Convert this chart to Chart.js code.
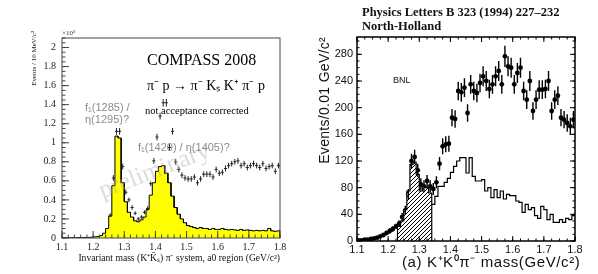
<!DOCTYPE html>
<html>
<head>
<meta charset="utf-8">
<script src="https://cdn.jsdelivr.net/npm/chart.js@4.4.1/dist/chart.umd.min.js"></script>
<style>
  html, body { margin: 0; padding: 0; background: #fff; }
  #wrap { position: relative; width: 598px; height: 274px; overflow: hidden; }
  #left { position: absolute; left: 0; top: 0; width: 300px; height: 274px; }
  #right { position: absolute; left: 300px; top: 0; width: 298px; height: 274px; }
</style>
</head>
<body>
<div id="wrap">
  <canvas id="left" width="300" height="274"></canvas>
  <canvas id="right" width="298" height="274"></canvas>
</div>
<script>
// ---- left panel: COMPASS 2008, units of 10^3 events / 10 MeV ----
const compassBinStart = 1.10;
const compassBinWidth = 0.01;
const compassHist = [
  0.002, 0.002, 0.003, 0.003, 0.003, 0.004, 0.005, 0.005, 0.006, 0.008,
  0.012, 0.015, 0.025, 0.05, 0.1, 0.23, 0.55, 1.07, 1.05, 0.58,
  0.38, 0.27, 0.22, 0.18, 0.17, 0.19, 0.22, 0.3, 0.45, 0.58,
  0.7, 0.75, 0.76, 0.68, 0.58, 0.44, 0.32, 0.25, 0.2, 0.16,
  0.13, 0.12, 0.11, 0.1, 0.11, 0.1, 0.1, 0.09, 0.1, 0.09,
  0.09, 0.1, 0.09, 0.085, 0.09, 0.085, 0.08, 0.09, 0.08, 0.085,
  0.08, 0.075, 0.08, 0.075, 0.08, 0.075, 0.1, 0.075, 0.07, 0.075
];
const compassPtStart = 1.255;
const compassPts = [
  0.24, 0.63, 1.12, 1.12, 0.75,
  0.48, 0.4, 0.32, 0.26, 0.2, 0.22, 0.27, 0.31, 0.57, 0.81,
  1.06, 1.28, 1.42, 1.42, 0.95, 1.12, 0.8, 0.72, 0.66, 0.63,
  0.62, 0.62, 0.64, 0.58, 0.62, 0.67, 0.67, 0.67, 0.64, 0.72,
  0.68, 0.69, 0.73, 0.76, 0.78, 0.8, 0.81, 0.76, 0.78, 0.74,
  0.76, 0.78, 0.76, 0.74, 0.78, 0.73, 0.75, 0.76, 0.7, 0.76
];
const compassPtErr = [
  0.02, 0.03, 0.035, 0.035, 0.03,
  0.025, 0.025, 0.025, 0.02, 0.02, 0.02, 0.02, 0.025, 0.025, 0.03,
  0.035, 0.035, 0.04, 0.04, 0.035, 0.035, 0.03, 0.03, 0.03, 0.03,
  0.03, 0.03, 0.03, 0.03, 0.03, 0.03, 0.03, 0.03, 0.03, 0.03,
  0.03, 0.03, 0.03, 0.03, 0.03, 0.03, 0.03, 0.03, 0.03, 0.03,
  0.03, 0.03, 0.03, 0.03, 0.03, 0.03, 0.03, 0.03, 0.03, 0.03
];
const compassXLabels = ['1.1', '1.2', '1.3', '1.4', '1.5', '1.6', '1.7', '1.8'];
const compassYLabels = ['0', '0.2', '0.4', '0.6', '0.8', '1', '1.2', '1.4', '1.6', '1.8', '2'];

// ---- right panel: BNL, Phys. Lett. B 323 (1994), events / 0.01 GeV ----
const bnlPtStart = 1.105;
const bnlPts = [
  1, 1, 2, 2, 3, 4, 5, 7, 9, 12,
  15, 18, 22, 26, 36, 46, 70, 120, 126, 106,
  85, 82, 90, 82, 78, 88, 116, 142, 145, 146,
  185, 183, 225, 223, 230, 192, 235, 225, 222, 237,
  247, 240, 228, 235, 247, 255, 235, 277, 262, 260,
  235, 252, 260, 225, 212, 240, 195, 212, 227, 227,
  228, 240, 195, 212, 218, 185, 182, 177, 172, 182
];
const bnlErr = [
  1, 1, 1, 1, 2, 2, 2, 3, 3, 3,
  4, 4, 4, 5, 6, 7, 8, 11, 11, 10,
  9, 9, 9, 9, 9, 9, 10, 12, 12, 12,
  13, 13, 14, 14, 14, 13, 14, 14, 14, 14,
  15, 15, 14, 14, 15, 15, 14, 16, 15, 15,
  14, 15, 15, 14, 14, 15, 13, 14, 14, 14,
  14, 15, 13, 14, 14, 13, 13, 13, 13, 13
];
const bnlHatchStart = 1.23;
const bnlHatch = [22, 30, 47, 75, 115, 118, 100, 75, 82, 80, 72];
const bnlMcStart = 1.34;
const bnlMc = [
  55, 67, 82, 82, 88, 94, 103, 112, 120, 125,
  125, 102, 125, 97, 90, 90, 92, 75, 80, 65,
  77, 65, 75, 63, 70, 68, 68, 60, 58, 43,
  55, 47, 50, 38, 34, 52, 47, 32, 40, 28,
  28, 32, 28, 34, 32, 38
];
const bnlXLabels = ['1.1', '1.2', '1.3', '1.4', '1.5', '1.6', '1.7', '1.8'];
const bnlYLabels = ['0', '40', '80', '120', '160', '200', '240', '280'];

// histogram outline as edge pairs
function histPoints(start, width, vals, closed) {
  const pts = [];
  if (closed) pts.push({ x: start, y: 0 });
  vals.forEach((v, i) => {
    const lo = +(start + i * width).toFixed(4);
    pts.push({ x: lo, y: v }, { x: +(lo + width).toFixed(4), y: v });
  });
  if (closed) pts.push({ x: pts[pts.length - 1].x, y: 0 });
  return pts;
}
function seriesPoints(start, vals) {
  return vals.map((v, i) => ({ x: +(start + i * 0.01).toFixed(4), y: v }));
}

function hatchPattern() {
  const c = document.createElement('canvas');
  c.width = 4; c.height = 4;
  const g = c.getContext('2d');
  g.fillStyle = '#fff'; g.fillRect(0, 0, 4, 4);
  g.strokeStyle = '#000'; g.lineWidth = 1;
  g.beginPath();
  g.moveTo(0, 4); g.lineTo(4, 0);
  g.moveTo(-1, 1); g.lineTo(1, -1);
  g.moveTo(3, 5); g.lineTo(5, 3);
  g.stroke();
  return g.createPattern(c, 'repeat');
}

// frame box + inward tick marks
const frameTicks = {
  id: 'frameTicks',
  afterDraw(chart, args, o) {
    const { ctx, chartArea: a, scales: { x, y } } = chart;
    ctx.save();
    ctx.strokeStyle = o.color;
    ctx.lineWidth = o.lineWidth;
    ctx.strokeRect(a.left, a.top, a.right - a.left, a.bottom - a.top);
    ctx.lineWidth = o.tickWidth;
    ctx.beginPath();
    const xTicks = (step, len) => {
      const n = Math.round((x.max - x.min) / step);
      for (let i = 0; i <= n; i++) {
        const p = x.getPixelForValue(x.min + i * step);
        ctx.moveTo(p, a.bottom); ctx.lineTo(p, a.bottom - len);
        if (o.mirror) { ctx.moveTo(p, a.top); ctx.lineTo(p, a.top + len); }
      }
    };
    const yTicks = (step, len) => {
      const n = Math.floor((y.max - y.min) / step + 1e-6);
      for (let i = 0; i <= n; i++) {
        const p = y.getPixelForValue(y.min + i * step);
        ctx.moveTo(a.left, p); ctx.lineTo(a.left + len, p);
        if (o.mirror) { ctx.moveTo(a.right, p); ctx.lineTo(a.right - len, p); }
      }
    };
    xTicks(o.xMajor, o.majorLen); xTicks(o.xMinor, o.minorLen);
    yTicks(o.yMajor, o.majorLen); yTicks(o.yMinor, o.minorLen);
    ctx.stroke();
    ctx.restore();
  }
};

// error bars from dataset.errY / dataset.errX
const errorBars = {
  id: 'errorBars',
  afterDatasetsDraw(chart) {
    const { ctx, scales: { x, y } } = chart;
    chart.data.datasets.forEach(ds => {
      if (!ds.errY) return;
      ctx.save();
      ctx.strokeStyle = ds.barColor;
      ctx.lineWidth = ds.barWidth;
      ctx.beginPath();
      ds.data.forEach((p, i) => {
        const px = x.getPixelForValue(p.x), py = y.getPixelForValue(p.y);
        ctx.moveTo(px, y.getPixelForValue(p.y - ds.errY[i]));
        ctx.lineTo(px, y.getPixelForValue(p.y + ds.errY[i]));
        if (ds.errX) {
          ctx.moveTo(x.getPixelForValue(p.x - ds.errX), py);
          ctx.lineTo(x.getPixelForValue(p.x + ds.errX), py);
        }
      });
      ctx.stroke();
      ctx.restore();
    });
  }
};

function txt(ctx, s, x, y, font, color, align) {
  ctx.font = font;
  ctx.fillStyle = color;
  ctx.textAlign = align || 'left';
  ctx.textBaseline = 'alphabetic';
  ctx.fillText(s, x, y);
}

const serif = '"Liberation Serif", "Times New Roman", serif';
const sans = '"Liberation Sans", Arial, sans-serif';

// ---- left chart ----
const compassText = {
  id: 'compassText',
  afterDraw(chart) {
    const ctx = chart.ctx;
    ctx.save();
    // watermark
    ctx.save();
    ctx.translate(154, 170);
    ctx.rotate(-21 * Math.PI / 180);
    ctx.globalAlpha = 0.4;
    txt(ctx, 'preliminary', 0, 8, '25px ' + serif, '#a8a8a8', 'center');
    ctx.restore();

    txt(ctx, 'COMPASS 2008', 147, 65, '16px ' + serif, '#000');
    txt(ctx, 'π⁻ p → π⁻ Kₛ K⁺ π⁻ p', 147, 90, '14px ' + serif, '#000');
    txt(ctx, 'not acceptance corrected', 145, 114, '10.5px ' + serif, '#000');
    txt(ctx, 'f₁(1285) /', 85, 111, '11px ' + sans, '#8c8c8c');
    txt(ctx, 'η(1295)?', 85, 123, '11px ' + sans, '#8c8c8c');
    txt(ctx, 'f₁(1420) / η(1405)?', 138, 151, '11px ' + sans, '#8c8c8c');
    txt(ctx, '×10³', 62, 35, '7px ' + serif, '#333');
    txt(ctx, 'Invariant mass (K⁺K̄ₛ) π⁻ system, a0 region (GeV/c²)', 280, 261, '9.6px ' + serif, '#111', 'right');

    ctx.save();
    ctx.translate(36, 31);
    ctx.rotate(-Math.PI / 2);
    txt(ctx, 'Events / 10 MeV/c²', 0, 0, '7px ' + serif, '#222', 'right');
    ctx.restore();
    ctx.restore();
  }
};

new Chart(document.getElementById('left'), {
  type: 'scatter',
  data: {
    datasets: [
      {
        type: 'line',
        data: histPoints(compassBinStart, compassBinWidth, compassHist, true),
        borderColor: '#000',
        borderWidth: 1,
        backgroundColor: '#ffff00',
        fill: 'origin',
        pointRadius: 0,
        tension: 0
      },
      {
        data: seriesPoints(compassPtStart, compassPts),
        pointRadius: 0,
        errY: compassPtErr,
        errX: 0.005,
        barColor: '#222',
        barWidth: 1
      }
    ]
  },
  options: {
    responsive: false,
    animation: false,
    events: [],
    layout: { padding: { left: 0, top: 38, right: 20, bottom: 0 } },
    plugins: {
      legend: { display: false },
      tooltip: { enabled: false },
      frameTicks: { color: '#444', lineWidth: 1, tickWidth: 1, mirror: false,
        xMajor: 0.1, xMinor: 0.02, yMajor: 0.2, yMinor: 0.05, majorLen: 7, minorLen: 3.5 }
    },
    scales: {
      x: {
        type: 'linear', min: 1.1, max: 1.8,
        grid: { display: false, drawTicks: false },
        border: { display: false },
        ticks: { stepSize: 0.1, includeBounds: false, padding: 3, maxRotation: 0,
          font: { family: serif, size: 10 }, color: '#222',
          callback: (v, i) => compassXLabels[i] },
        afterFit: s => { s.height = 36; s.paddingLeft = 0; s.paddingRight = 0; }
      },
      y: {
        type: 'linear', min: 0, max: 2.1,
        grid: { display: false, drawTicks: false },
        border: { display: false },
        ticks: { stepSize: 0.2, includeBounds: false, padding: 6,
          font: { family: serif, size: 10 }, color: '#222',
          callback: (v, i) => compassYLabels[i] },
        afterFit: s => { s.width = 62; s.paddingTop = 0; s.paddingBottom = 0; }
      }
    }
  },
  plugins: [frameTicks, errorBars, compassText]
});

// ---- right chart ----
const bnlText = {
  id: 'bnlText',
  afterDraw(chart) {
    const ctx = chart.ctx;
    ctx.save();
    txt(ctx, 'Physics Letters B 323 (1994) 227–232', 62, 16, 'bold 12.5px ' + serif, '#111');
    txt(ctx, 'North-Holland', 62, 30, 'bold 12.5px ' + serif, '#111');
    txt(ctx, 'BNL', 93, 83, '9px ' + sans, '#111');
    ctx.letterSpacing = '0.6px';
    txt(ctx, '(a) K⁺K⁰π⁻ mass(GeV/c²)', 102, 267, '15px ' + sans, '#111');
    ctx.save();
    ctx.translate(29, 37);
    ctx.rotate(-Math.PI / 2);
    ctx.letterSpacing = '0.3px';
    txt(ctx, 'Events/0.01 GeV/c²', 0, 0, '14px ' + sans, '#111', 'right');
    ctx.restore();
    ctx.restore();
  }
};

new Chart(document.getElementById('right'), {
  type: 'scatter',
  data: {
    datasets: [
      {
        type: 'line',
        data: histPoints(bnlHatchStart, 0.01, bnlHatch, true),
        borderColor: '#000',
        borderWidth: 1.2,
        backgroundColor: hatchPattern(),
        fill: 'origin',
        pointRadius: 0,
        tension: 0
      },
      {
        type: 'line',
        data: histPoints(bnlMcStart, 0.01, bnlMc, false),
        borderColor: '#000',
        borderWidth: 1.2,
        fill: false,
        pointRadius: 0,
        tension: 0
      },
      {
        data: seriesPoints(bnlPtStart, bnlPts),
        pointRadius: 2.4,
        pointBackgroundColor: '#000',
        pointBorderWidth: 0,
        errY: bnlErr,
        barColor: '#000',
        barWidth: 1.4
      }
    ]
  },
  options: {
    responsive: false,
    animation: false,
    events: [],
    layout: { padding: { left: 0, top: 37, right: 23, bottom: 0 } },
    plugins: {
      legend: { display: false },
      tooltip: { enabled: false },
      frameTicks: { color: '#000', lineWidth: 1.5, tickWidth: 1, mirror: true,
        xMajor: 0.1, xMinor: 0.025, yMajor: 40, yMinor: 10, majorLen: 5, minorLen: 2.5 }
    },
    scales: {
      x: {
        type: 'linear', min: 1.1, max: 1.8,
        grid: { display: false, drawTicks: false },
        border: { display: false },
        ticks: { stepSize: 0.1, includeBounds: false, padding: 2, maxRotation: 0,
          font: { family: sans, size: 11 }, color: '#111',
          callback: (v, i) => bnlXLabels[i] },
        afterFit: s => { s.height = 33; s.paddingLeft = 0; s.paddingRight = 0; }
      },
      y: {
        type: 'linear', min: 0, max: 306,
        grid: { display: false, drawTicks: false },
        border: { display: false },
        ticks: { stepSize: 40, includeBounds: false, padding: 4,
          font: { family: sans, size: 11 }, color: '#111',
          callback: (v, i) => bnlYLabels[i] },
        afterFit: s => { s.width = 57; s.paddingTop = 0; s.paddingBottom = 0; }
      }
    }
  },
  plugins: [frameTicks, errorBars, bnlText]
});
</script>
</body>
</html>
